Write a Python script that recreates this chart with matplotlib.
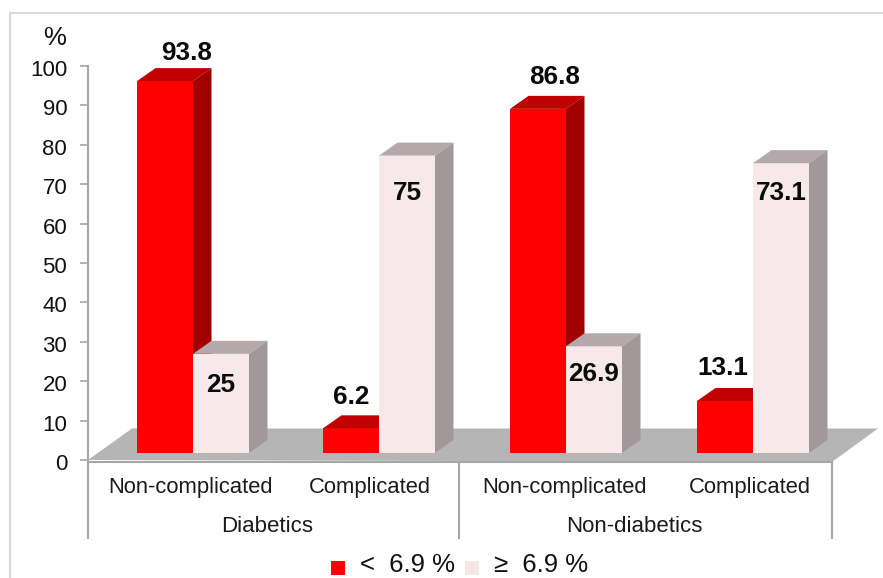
"""
Taux par groupe, barres en pseudo 3D
"""

import matplotlib
matplotlib.use("Agg")
import matplotlib.pyplot as plt
from matplotlib.patches import Polygon, Rectangle
from matplotlib.transforms import ScaledTranslation

plt.rcParams['font.family'] = ['Liberation Sans', 'DejaVu Sans']

groupes = ['Diabetics', 'Non-diabetics']
categories = ['Non-complicated', 'Complicated', 'Non-complicated', 'Complicated']
bas = [93.8, 6.2, 86.8, 13.1]
haut = [25, 75, 26.9, 73.1]
bas_labels = ['93.8', '6.2', '86.8', '13.1']
haut_labels = ['25', '75', '26.9', '73.1']
y_ticks = list(range(0, 101, 10))

W, H = 883, 578
# largeur/profondeur des barres en unites de l'axe x (1 unite = 1 pixel ici)
LARG = 56
DX, DY = 18.5, 3.3
BASE = 1.8     # les barres sont posees au milieu du sol
ECHELLE = 1.006
pos_bas = [165, 351, 538, 725]
# position des etiquettes
bas_dx = [22, 0, 17, -2]
bas_y = [103.3, 16, 97.2, 23.4]
haut_y = [19, 67.8, 21.8, 67.8]


def barre(ax, x, val, c_face, c_top, c_side, z=2):
    h = BASE + val * ECHELLE
    ax.add_patch(Rectangle((x, BASE), LARG, h - BASE, fc=c_face, ec='none', zorder=z))
    ax.add_patch(Polygon([(x, h), (x + LARG, h), (x + LARG + DX, h + DY), (x + DX, h + DY)],
                         fc=c_top, ec='none', zorder=z))
    ax.add_patch(Polygon([(x + LARG, BASE), (x + LARG + DX, BASE + DY), (x + LARG + DX, h + DY), (x + LARG, h)],
                         fc=c_side, ec='none', zorder=z))


fig = plt.figure(figsize=(W / 100, H / 100), dpi=100)
fig.add_artist(Rectangle((10 / W, -0.01), (W - 10) / W + 0.01, (H - 13) / H + 0.01, transform=fig.transFigure,
                         fc='white', ec='#d9d9d9', lw=1.5, zorder=-5))

# axe : y=0 a 460 px, y=100 a 66 px
ax = fig.add_axes([88 / W, (H - 460) / H, (W - 88) / W, 394 / H])
ax.set_xlim(88, W)
ax.set_ylim(0, 100)
ax.patch.set_alpha(0)
for s in ['top', 'right', 'bottom']:
    ax.spines[s].set_visible(False)
ax.spines['left'].set_color('#a6a6a6')
ax.spines['left'].set_linewidth(1.5)
ax.set_xticks([])
ax.set_yticks(y_ticks)
ax.tick_params(axis='y', labelsize=16, color='#a6a6a6', width=1.2, length=5.5, pad=9.5, labelcolor='#111111')
# les nombres sont un peu plus bas que les graduations
decale = ScaledTranslation(0, -2 / 100, fig.dpi_scale_trans)
for lab in ax.get_yticklabels():
    lab.set_transform(lab.get_transform() + decale)

# sol gris
ax.add_patch(Polygon([(88, 0), (832, -0.5), (878, 8), (132, 8)], fc='#b5b5b5', ec='none',
                     zorder=1, clip_on=False))
ax.plot([88, 832], [-0.5, -0.5], color='#a6a6a6', lw=1.5, zorder=1, clip_on=False)

for i in range(4):
    x = pos_bas[i] - 28
    barre(ax, x, bas[i], '#ff0000', '#c00000', '#a00000', z=2 + i * 2)
    barre(ax, x + LARG, haut[i], '#f7e9e9', '#b5a8a8', '#a19999', z=3 + i * 2)
    ax.text(pos_bas[i] + bas_dx[i], bas_y[i], bas_labels[i], ha='center', va='center',
            fontsize=18.8, fontweight='bold', color='#0a0a0a', zorder=20)
    ax.text(x + LARG * 1.5, haut_y[i], haut_labels[i], ha='center', va='center',
            fontsize=18.8, fontweight='bold', color='#0a0a0a', zorder=20)

# etiquettes d'axe, coordonnees en pixels
tr = fig.transFigure


def texte(x, y, s, **kw):
    kw.setdefault('va', 'center')
    fig.text(x / W, 1 - y / H, s, ha='center', **kw)


centres = [191, 370, 564, 750]
for c, nom in zip(centres, categories):
    texte(c, 487, nom, fontsize=15.8, color='#1a1a1a')
for c, nom in zip([267, 634], groupes):
    texte(c, 526, nom, fontsize=16, color='#1a1a1a')
for x in [88, 459, 832]:
    fig.add_artist(plt.Line2D([x / W, x / W], [1 - 462 / H, 1 - 538 / H], color='#a6a6a6', lw=1.5))

texte(55, 38, '%', fontsize=18.5, color='#111111')

# legende
fig.add_artist(Rectangle((331 / W, 1 - 574.5 / H), 13.5 / W, 13.5 / H, transform=tr, fc='#ff0000', ec='none', zorder=5))
texte(407, 572, '<  6.9 %', fontsize=18.5, color='#111111', va='baseline')
fig.add_artist(Rectangle((465 / W, 1 - 574.5 / H), 13.5 / W, 13.5 / H, transform=tr, fc='#f5e6e6', ec='none', zorder=5))
texte(541, 572, '≥  6.9 %', fontsize=18.5, color='#111111', va='baseline')

fig.savefig('out.png', dpi=100)
